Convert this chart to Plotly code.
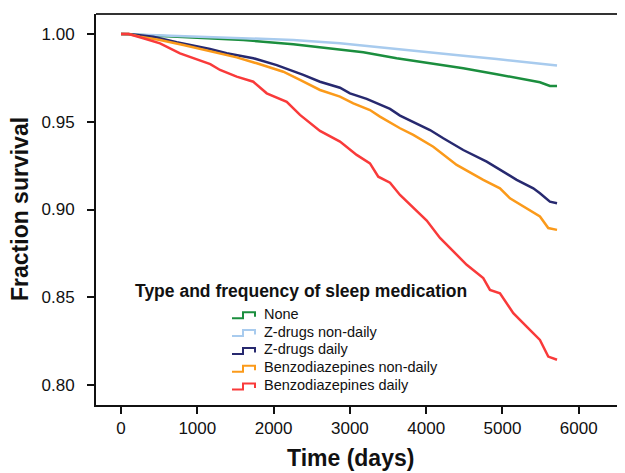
import plotly.graph_objects as go

# ---------------- data ----------------
series_names = ["None", "Z-drugs non-daily", "Z-drugs daily",
                "Benzodiazepines non-daily", "Benzodiazepines daily"]
series_colors = ["#1b8e3e", "#a8cbee", "#27296f", "#fb9a1a", "#f93a3a"]

none_t = [0, 730, 1603, 2258, 2870, 3176, 3613, 4050, 4486, 4924, 5186, 5491, 5622, 5715]
none_s = [1.0, 0.9985, 0.9966, 0.9941, 0.9913, 0.9896, 0.9862, 0.9833, 0.9805, 0.9771, 0.9748, 0.9725, 0.9704, 0.9704]

zndaily_t = [0, 730, 1603, 2258, 2870, 3176, 3613, 4050, 4486, 4924, 5360, 5715]
zndaily_s = [1.0, 0.9990, 0.9979, 0.9966, 0.9947, 0.9933, 0.9915, 0.9896, 0.9876, 0.9858, 0.9837, 0.9820]

zdaily_t = [0, 100, 423, 730, 1166, 1385, 1734, 2041, 2389, 2608, 2870, 3001, 3220, 3526, 3657,
            3875, 4050, 4224, 4486, 4793, 4967, 5186, 5404, 5491, 5622, 5715]
zdaily_s = [1.0, 1.0, 0.9985, 0.9953, 0.9915, 0.9890, 0.9862, 0.9823, 0.9767, 0.9728, 0.9694, 0.9662,
            0.9630, 0.9573, 0.9535, 0.9491, 0.9453, 0.9406, 0.9339, 0.9273, 0.9226, 0.9169, 0.9121,
            0.9093, 0.9045, 0.9036]

bndaily_t = [0, 100, 249, 511, 817, 1166, 1516, 1779, 1996, 2127, 2346, 2608, 2870, 3045, 3263,
             3394, 3657, 3831, 4093, 4224, 4400, 4748, 4967, 5098, 5273, 5491, 5600, 5715]
bndaily_s = [1.0, 1.0, 0.9985, 0.9966, 0.9937, 0.9903, 0.9867, 0.9833, 0.9801, 0.9785, 0.9738, 0.9681,
             0.9643, 0.9605, 0.9567, 0.9529, 0.9463, 0.9425, 0.9358, 0.9315, 0.9254, 0.9169, 0.9121,
             0.9064, 0.9017, 0.8960, 0.8894, 0.8884]

bdaily_t = [0, 100, 292, 511, 773, 948, 1170, 1298, 1516, 1734, 1910, 2172, 2346, 2608, 2870, 3089,
            3263, 3372, 3526, 3657, 3831, 4007, 4181, 4531, 4748, 4836, 4967, 5142, 5317, 5491,
            5600, 5715]
bdaily_s = [1.0, 1.0, 0.9976, 0.9947, 0.9890, 0.9862, 0.9828, 0.9795, 0.9757, 0.9728, 0.9662, 0.9614,
            0.9539, 0.9448, 0.9387, 0.9311, 0.9263, 0.9187, 0.9153, 0.9083, 0.9013, 0.8937, 0.8838,
            0.8685, 0.8609, 0.8542, 0.8523, 0.8409, 0.8333, 0.8257, 0.8162, 0.8144]

x_ticks = [0, 1000, 2000, 3000, 4000, 5000, 6000]
y_ticks = [0.80, 0.85, 0.90, 0.95, 1.00]
legend_title = "Type and frequency of sleep medication"
x_title = "Time (days)"
y_title = "Fraction survival"

# ---------------- layout geometry ----------------
# the page body has an 8px margin, so the figure is offset by 8px
OFF = 8
W, H = 625 - OFF, 473 - OFF
L, R, T = 96 - OFF, 0, 14 - OFF
B = H - (405 - OFF)
PW, PH = W - L - R, H - T - B


def px(xp):
    return (xp - OFF - L) / PW


def py(yp):
    return (H - B - (yp - OFF)) / PH


FONT = "Liberation Sans, Arial, Helvetica, sans-serif"

fig = go.Figure()
all_t = [none_t, zndaily_t, zdaily_t, bndaily_t, bdaily_t]
all_s = [none_s, zndaily_s, zdaily_s, bndaily_s, bdaily_s]
for name, col, t, s in zip(series_names, series_colors, all_t, all_s):
    fig.add_trace(go.Scatter(x=t, y=s, mode="lines", name=name,
                             line=dict(color=col, width=2.5), showlegend=False))

fig.update_layout(
    width=W, height=H,
    margin=dict(l=L, r=R, t=T, b=B),
    plot_bgcolor="white", paper_bgcolor="white",
    font=dict(family=FONT, color="#111111"),
    xaxis=dict(range=[-328, 6606], tickvals=x_ticks, ticks="outside", ticklen=7, tickwidth=2,
               tickcolor="#111111", showline=True, linewidth=2, linecolor="#111111",
               showgrid=False, zeroline=False, tickfont=dict(size=17, family=FONT)),
    yaxis=dict(range=[0.7886, 1.0114], tickvals=y_ticks, tickformat=".2f", ticks="outside",
               ticklen=7, tickwidth=2, tickcolor="#111111", showline=True, linewidth=2,
               linecolor="#111111", showgrid=False, zeroline=False,
               tickfont=dict(size=17, family=FONT), ticklabelstandoff=9),
)

# top frame line
fig.add_shape(type="line", xref="paper", yref="paper", x0=0, x1=1, y0=1, y1=1,
              line=dict(color="#333333", width=2))

annotations = []
annotations.append(dict(text="<b>%s</b>" % x_title, xref="paper", yref="paper",
                        x=px(350), y=py(458), showarrow=False, xanchor="center", yanchor="middle",
                        font=dict(size=23, family=FONT, color="#111111")))
annotations.append(dict(text="<b>%s</b>" % y_title, xref="paper", yref="paper",
                        x=px(20), y=py(209), showarrow=False, xanchor="center", yanchor="middle",
                        textangle=-90, font=dict(size=23, family=FONT, color="#111111")))
annotations.append(dict(text="<b>%s</b>" % legend_title, xref="paper", yref="paper",
                        x=px(300.5), y=py(291), showarrow=False, xanchor="center", yanchor="middle",
                        font=dict(size=17.5, family=FONT, color="#111111")))

row_y = [313.7, 331.6, 349.4, 367.2, 385.0]
for name, col, yc in zip(series_names, series_colors, row_y):
    annotations.append(dict(text=name, xref="paper", yref="paper", x=px(262), y=py(yc),
                            showarrow=False, xanchor="left", yanchor="middle",
                            font=dict(size=14.5, family=FONT, color="#111111")))
    path = "M %f %f L %f %f L %f %f L %f %f L %f %f" % (
        px(232), py(yc + 4.5), px(243), py(yc + 4.5), px(243), py(yc - 1.5),
        px(255), py(yc - 1.5), px(255), py(yc + 3))
    fig.add_shape(type="path", path=path, xref="paper", yref="paper",
                  line=dict(color=col, width=2))

fig.update_layout(annotations=annotations)
fig.write_html("out.html")
